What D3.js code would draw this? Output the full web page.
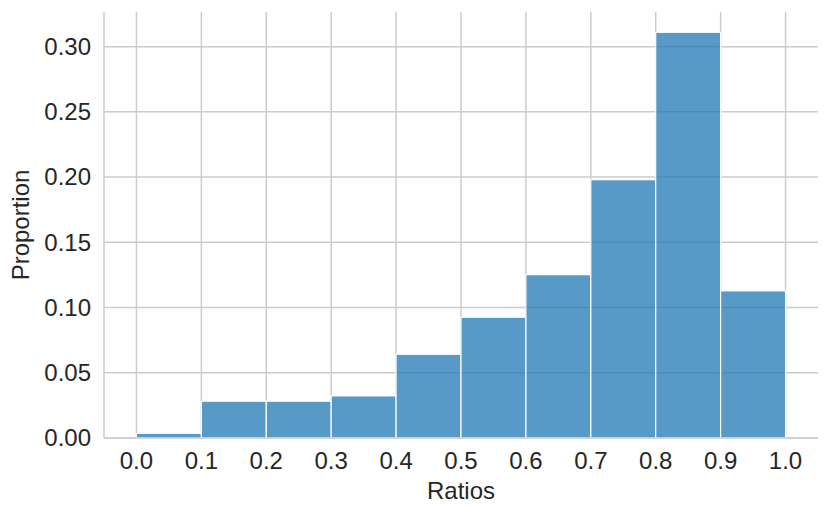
<!DOCTYPE html>
<html><head><meta charset="utf-8">
<script src="https://cdn.jsdelivr.net/npm/d3@7"></script>
<style>body{margin:0;background:#fff}svg{display:block}text{font-family:"Liberation Sans",Arial,sans-serif;fill:#262626}</style>
</head><body>
<script>
const binStarts = [0.0,0.1,0.2,0.3,0.4,0.5,0.6,0.7,0.8,0.9];
const binWidth = 0.1;
const proportions = [0.0036,0.0282,0.0282,0.0323,0.0642,0.0926,0.1252,0.1980,0.3110,0.1128];
const xTicks = [0.0,0.1,0.2,0.3,0.4,0.5,0.6,0.7,0.8,0.9,1.0];
const yTicks = [0.00,0.05,0.10,0.15,0.20,0.25,0.30];

const W=831,H=516;
const m={left:104,right:13,top:12,bottom:78};
const svg=d3.select("body").append("svg").attr("width",W).attr("height",H);
const x=d3.scaleLinear().domain([-0.05,1.05]).range([m.left,W-m.right]);
const y=d3.scaleLinear().domain([0,d3.max(proportions)*1.05]).range([H-m.bottom,m.top]);
const grid="#cccccc";
const fs=24;
// grid
svg.append("g").selectAll("line").data(xTicks).join("line")
 .attr("x1",d=>x(d)).attr("x2",d=>x(d)).attr("y1",m.top).attr("y2",H-m.bottom)
 .attr("stroke",grid).attr("stroke-width",1.5);
svg.append("g").selectAll("line").data(yTicks).join("line")
 .attr("x1",m.left).attr("x2",W-m.right).attr("y1",d=>y(d)).attr("y2",d=>y(d))
 .attr("stroke",grid).attr("stroke-width",1.5);
// bars
svg.append("g").selectAll("rect").data(binStarts).join("rect")
 .attr("x",d=>x(d)).attr("width",d=>x(d+binWidth)-x(d))
 .attr("y",(d,i)=>y(proportions[i])).attr("height",(d,i)=>y(0)-y(proportions[i]))
 .attr("fill","#1f77b4").attr("fill-opacity",0.75)
 .attr("stroke","#ffffff").attr("stroke-width",1.2);
// spines
svg.append("line").attr("x1",m.left).attr("x2",m.left).attr("y1",m.top).attr("y2",H-m.bottom).attr("stroke",grid).attr("stroke-width",1.5);
svg.append("line").attr("x1",m.left).attr("x2",W-m.right).attr("y1",H-m.bottom).attr("y2",H-m.bottom).attr("stroke",grid).attr("stroke-width",1.5);
// tick labels
svg.append("g").selectAll("text").data(xTicks).join("text")
 .attr("x",d=>x(d)).attr("y",H-m.bottom+30.5).attr("text-anchor","middle").attr("font-size",fs)
 .text(d=>d3.format(".1f")(d));
svg.append("g").selectAll("text").data(yTicks).join("text")
 .attr("x",m.left-13).attr("y",d=>y(d)).attr("dy","0.35em").attr("text-anchor","end").attr("font-size",fs)
 .text(d=>d3.format(".2f")(d));
svg.append("text").attr("x",(x(0)+x(1))/2).attr("y",H-m.bottom+60.5).attr("text-anchor","middle").attr("font-size",fs).text("Ratios");
svg.append("text").attr("transform",`translate(29,${(m.top+H-m.bottom)/2}) rotate(-90)`).attr("text-anchor","middle").attr("font-size",fs).text("Proportion");
</script>
</body></html>
